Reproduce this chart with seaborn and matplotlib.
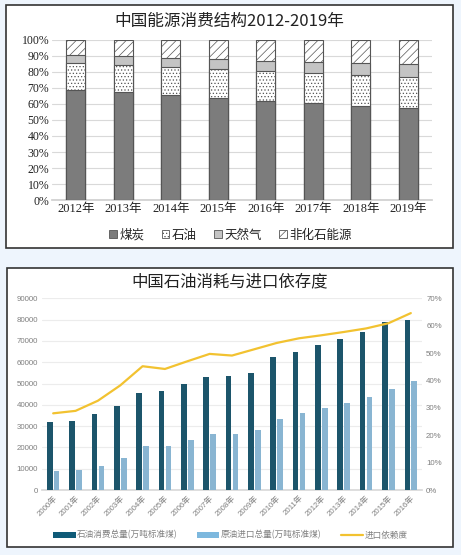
import numpy as np
import pandas as pd
import matplotlib
matplotlib.use("Agg")
import matplotlib.pyplot as plt
from matplotlib.patches import Patch, Rectangle
from matplotlib.lines import Line2D
import seaborn as sns

# Datos: estructura de consumo energético (%)
años_top = ['2012年', '2013年', '2014年', '2015年', '2016年', '2017年', '2018年', '2019年']
carbon = [68.5, 67.4, 65.6, 63.7, 62.0, 60.4, 59.0, 57.7]
petroleo = [17.0, 17.1, 17.4, 18.3, 18.5, 18.8, 18.9, 18.9]
gas = [4.8, 5.3, 5.7, 5.9, 6.2, 7.0, 7.8, 8.1]
no_fosil = [9.7, 10.2, 11.3, 12.1, 13.3, 13.8, 14.3, 15.3]
fuentes = ['煤炭', '石油', '天然气', '非化石能源']

# Datos: consumo de petróleo e importaciones
años_bot = ['2000年', '2001年', '2002年', '2003年', '2004年', '2005年', '2006年', '2007年', '2008年',
            '2009年', '2010年', '2011年', '2012年', '2013年', '2014年', '2015年', '2016年']
consumo = [32000, 32500, 35500, 39300, 45500, 46300, 50000, 52900, 53400,
           55000, 62400, 65000, 68200, 71000, 74200, 78800, 79700]
importacion = [8900, 9500, 11400, 15200, 20700, 20600, 23500, 26100, 26100,
               28200, 33500, 36000, 38500, 40800, 43500, 47600, 51200]
dependencia = [28.0, 28.9, 32.6, 38.2, 45.2, 44.2, 47.0, 49.7, 49.1,
               51.4, 53.7, 55.4, 56.5, 57.7, 59.0, 60.9, 64.6]
series_bot = ['石油消费总量(万吨标准煤)', '原油进口总量(万吨标准煤)', '进口依赖度']

sns.set_theme(style='white')
plt.rcParams['font.family'] = ['Noto Sans CJK SC', 'DejaVu Sans']
plt.rcParams['hatch.linewidth'] = 0.5

fig = plt.figure(figsize=(4.61, 5.55), dpi=100)
fig.patch.set_facecolor('#eef5fd')

# paneles blancos con borde
fig.patches.append(Rectangle((0.013, 0.553), 0.970, 0.438, transform=fig.transFigure,
                             facecolor='white', edgecolor='#333333', lw=1.2, zorder=-5))
fig.patches.append(Rectangle((0.015, 0.0144), 0.968, 0.5027, transform=fig.transFigure,
                             facecolor='white', edgecolor='#333333', lw=1.2, zorder=-5))

# ---------------- gráfico superior: barras apiladas 100% ----------------
ax1 = fig.add_axes([0.1128, 0.6396, 0.8242, 0.2884])
ax1.set_facecolor('none')

acum = np.cumsum(np.array([carbon, petroleo, gas, no_fosil]), axis=0)
df_top = pd.DataFrame({
    '年份': años_top * 4,
    '能源': np.repeat(fuentes, len(años_top)),
    '累计': acum.ravel(),
})
orden = ['非化石能源', '天然气', '石油', '煤炭']
colores = {'煤炭': '#7c7c7c', '石油': 'white', '天然气': '#c4c4c4', '非化石能源': 'white'}
tramas = {'煤炭': '', '石油': '.....', '天然气': '', '非化石能源': '////'}
sns.barplot(data=df_top, x='年份', y='累计', hue='能源', hue_order=orden, dodge=False,
            palette=colores, width=0.4, edgecolor='#555555', linewidth=0.8,
            legend=False, ax=ax1, zorder=3)
for cont, f in zip(ax1.containers, orden):
    for barra in cont:
        barra.set_hatch(tramas[f])

ax1.set_ylim(0, 100)
ax1.set_xlim(-0.5, 7.5)
ax1.set_yticks(range(0, 101, 10))
ax1.set_yticklabels([f'{v}%' for v in range(0, 101, 10)])
ax1.grid(axis='y', color='#d9d9d9', lw=0.8, zorder=0)
ax1.set_axisbelow(True)
for s in ax1.spines.values():
    s.set_visible(False)
ax1.spines['bottom'].set_visible(True)
ax1.spines['bottom'].set_color('#d0d0d0')
ax1.tick_params(length=0, pad=2)
ax1.set_xlabel('')
ax1.set_ylabel('')
for t in ax1.get_yticklabels():
    t.set_fontfamily(['Liberation Serif', 'Noto Sans CJK SC'])
    t.set_fontsize(8.5)
    t.set_color('#222222')
for t in ax1.get_xticklabels():
    t.set_fontfamily(['Liberation Serif', 'Noto Sans CJK SC'])
    t.set_fontsize(9)
    t.set_color('#222222')

fig.text(0.497, 0.962, '中国能源消费结构2012-2019年', ha='center', va='center',
         fontsize=12, color='#222222')

manijas = [Patch(facecolor=colores[f], edgecolor='#555555', hatch=tramas[f], lw=0.6) for f in fuentes]
fig.legend(manijas, fuentes, loc='center', bbox_to_anchor=(0.5, 0.576), ncol=4, frameon=False,
           handlelength=0.6, handleheight=0.6, handletextpad=0.2, columnspacing=1.4,
           prop={'family': ['Liberation Serif', 'Noto Sans CJK SC'], 'size': 9})

# ---------------- gráfico inferior: barras + línea ----------------
ax2 = fig.add_axes([0.0911, 0.1171, 0.8243, 0.3454])
ax2.set_facecolor('none')
df_bot = pd.DataFrame({
    '年份': años_bot * 2,
    '系列': np.repeat(series_bot[:2], len(años_bot)),
    '数量': consumo + importacion,
})
sns.barplot(data=df_bot, x='年份', y='数量', hue='系列', palette=['#0f5b78', '#7db8de'],
            width=0.62, gap=0.18, linewidth=0, legend=False, ax=ax2, zorder=3)
ax2.set_ylim(0, 90000)
ax2.set_yticks(range(0, 90001, 10000))
ax2.grid(axis='y', color='#ececec', lw=0.8, zorder=0)
ax2.set_axisbelow(True)
for s in ax2.spines.values():
    s.set_visible(False)
ax2.spines['bottom'].set_visible(True)
ax2.spines['bottom'].set_color('#d9d9d9')
ax2.tick_params(length=0, pad=3, labelsize=5.7, labelcolor='#7f7f7f')
ax2.set_xlabel('')
ax2.set_ylabel('')
plt.setp(ax2.get_xticklabels(), rotation=45, ha='right', rotation_mode='anchor')

ax3 = ax2.twinx()
sns.pointplot(x=años_bot, y=dependencia, ax=ax3, color='#f2c230', errorbar=None,
              markersize=0, linewidth=1.6)
ax3.set_ylim(0, 70)
ax3.set_yticks(range(0, 71, 10))
ax3.set_yticklabels([f'{v}%' for v in range(0, 71, 10)])
for s in ax3.spines.values():
    s.set_visible(False)
ax3.tick_params(length=0, pad=3, labelsize=5.7, labelcolor='#7f7f7f')
ax3.set_ylabel('')
ax3.set_xlim(-0.5, len(años_bot) - 0.5)
for t in ax2.get_xticklabels() + ax2.get_yticklabels() + ax3.get_yticklabels():
    t.set_fontfamily(['Liberation Sans', 'Noto Sans CJK SC'])

fig.text(0.499, 0.492, '中国石油消耗与进口依存度', ha='center', va='center',
         fontsize=11.8, color='#222222')

manijas2 = [Patch(facecolor='#0f5b78', lw=0), Patch(facecolor='#7db8de', lw=0),
            Line2D([0], [0], color='#f2c230', lw=1.6)]
fig.legend(manijas2, series_bot, loc='center', bbox_to_anchor=(0.5, 0.036), ncol=3, frameon=False,
           handlelength=2.6, handleheight=0.7, handletextpad=0.2, columnspacing=2.2,
           labelcolor='#7f7f7f', prop={'size': 6.2})

fig.savefig('out.png', dpi=100, facecolor=fig.get_facecolor())
